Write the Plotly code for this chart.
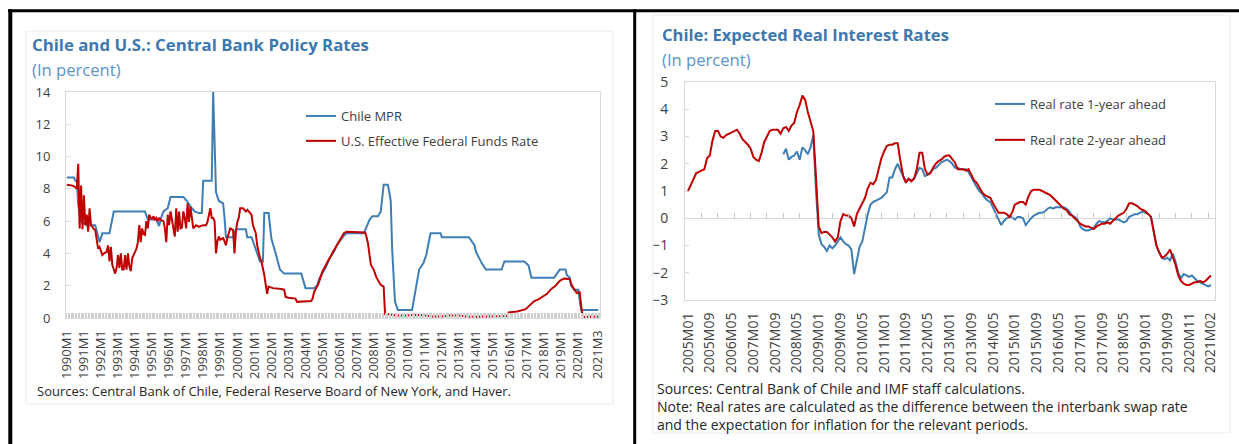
import plotly.graph_objects as go

W, H = 1239, 444

# ---------------- Left chart data (monthly, 1990M1 - 2021M3) ----------------
mpr_dates = ["1990-01", "1990-06", "1990-07", "1990-08", "1990-09", "1990-11", "1991-03", "1991-09",
             "1991-12", "1992-02", "1992-07", "1992-08", "1992-10", "1994-08", "1994-10", "1995-04",
             "1995-06", "1995-07", "1995-09", "1995-12", "1996-02", "1996-11", "1997-02", "1997-04",
             "1997-07", "1997-10", "1997-12", "1998-01", "1998-07", "1998-08", "1998-09", "1998-10",
             "1998-12", "1999-03", "1999-04", "1999-05", "1999-10", "1999-12", "2000-07", "2000-08",
             "2000-11", "2001-04", "2001-05", "2001-07", "2001-08", "2001-11", "2002-01", "2002-04",
             "2002-06", "2002-07", "2002-10", "2003-10", "2004-01", "2004-07", "2004-09", "2004-11",
             "2005-03", "2005-06", "2005-09", "2005-11", "2006-01", "2006-04", "2006-06", "2007-06",
             "2007-08", "2007-10", "2007-12", "2008-04", "2008-06", "2008-08", "2008-11", "2009-01",
             "2009-02", "2009-03", "2009-04", "2009-06", "2010-04", "2010-05", "2010-07", "2010-09",
             "2010-12", "2011-02", "2011-04", "2011-05", "2011-12", "2012-01", "2013-08", "2013-10",
             "2013-12", "2014-01", "2014-03", "2014-05", "2014-08", "2015-07", "2015-08", "2015-09",
             "2016-11", "2017-02", "2017-04", "2018-08", "2018-10", "2018-12", "2019-04", "2019-05",
             "2019-07", "2019-08", "2019-10", "2020-01", "2020-03", "2021-03"]
mpr_values = [8.7, 8.7, 8.5, 8.5, 7.0, 6.0, 5.75, 5.75,
              4.7, 5.25, 5.25, 5.75, 6.6, 6.6, 6.1, 6.1,
              5.7, 6.1, 6.6, 6.8, 7.5, 7.5, 7.2, 6.9,
              6.6, 6.5, 6.5, 8.5, 8.5, 14.0, 11.5, 7.8,
              7.25, 7.1, 6.2, 5.0, 5.0, 5.5, 5.5, 5.0,
              5.0, 3.7, 3.5, 3.5, 6.5, 6.5, 4.9, 4.0,
              3.2, 3.0, 2.75, 2.75, 1.85, 1.85, 2.0, 2.5,
              3.1, 3.7, 4.1, 4.5, 4.75, 5.1, 5.25, 5.25,
              5.65, 6.07, 6.3, 6.3, 6.6, 8.25, 8.25, 7.25,
              4.25, 2.25, 1.0, 0.5, 0.5, 1.0, 2.0, 3.0,
              3.4, 3.9, 4.8, 5.25, 5.25, 5.0, 5.0, 4.75,
              4.5, 4.1, 3.7, 3.4, 3.0, 3.0, 3.25, 3.5,
              3.5, 3.25, 2.5, 2.5, 2.75, 3.0, 3.0, 2.65,
              2.5, 2.0, 1.75, 1.75, 0.5, 0.5]

effr_dates = ["1990-01", "1990-05", "1990-07", "1990-08", "1990-09", "1990-10", "1990-11", "1990-12",
              "1991-01", "1991-02", "1991-03", "1991-04", "1991-05", "1991-06", "1991-07", "1991-08",
              "1991-09", "1991-10", "1991-11", "1991-12", "1992-01", "1992-02", "1992-03", "1992-05",
              "1992-06", "1992-07", "1992-08", "1992-09", "1992-11", "1992-12", "1993-01", "1993-02",
              "1993-03", "1993-04", "1993-05", "1993-06", "1993-07", "1993-08", "1993-09", "1993-10",
              "1993-11", "1993-12", "1994-01", "1994-02", "1994-03", "1994-04", "1994-05", "1994-06",
              "1994-07", "1994-08", "1994-09", "1994-10", "1994-11", "1994-12", "1995-01", "1995-02",
              "1995-03", "1995-04", "1995-05", "1995-06", "1995-07", "1995-09", "1995-10", "1995-11",
              "1995-12", "1996-01", "1996-02", "1996-04", "1996-05", "1996-06", "1996-07", "1996-08",
              "1996-09", "1996-10", "1996-11", "1996-12", "1997-01", "1997-02", "1997-03", "1997-04",
              "1997-05", "1997-06", "1997-08", "1997-10", "1998-01", "1998-03", "1998-04", "1998-05",
              "1998-06", "1998-07", "1998-08", "1998-09", "1998-10", "1998-11", "1998-12", "1999-01",
              "1999-02", "1999-03", "1999-04", "1999-05", "1999-06", "1999-07", "1999-08", "1999-09",
              "1999-10", "1999-11", "1999-12", "2000-01", "2000-02", "2000-03", "2000-04", "2000-05",
              "2000-06", "2000-07", "2000-08", "2000-09", "2000-11", "2000-12", "2001-01", "2001-02",
              "2001-03", "2001-04", "2001-05", "2001-06", "2001-07", "2001-08", "2001-09", "2001-10",
              "2001-11", "2002-02", "2002-08", "2002-10", "2002-11", "2003-01", "2003-06", "2003-07",
              "2004-05", "2004-06", "2004-07", "2004-10", "2005-01", "2005-05", "2005-09", "2006-01",
              "2006-04", "2006-06", "2007-07", "2007-08", "2007-09", "2007-11", "2008-01", "2008-03",
              "2008-05", "2008-06", "2008-08", "2008-09", "2008-10", "2009-01", "2009-06", "2010-01",
              "2010-06", "2011-01", "2011-06", "2012-01", "2012-06", "2013-01", "2013-06", "2014-01",
              "2015-01", "2015-11", "2015-12", "2016-06", "2016-12", "2017-03", "2017-06", "2017-09",
              "2017-12", "2018-03", "2018-06", "2018-09", "2018-12", "2019-03", "2019-07", "2019-08",
              "2019-10", "2019-12", "2020-02", "2020-03", "2020-04", "2020-09", "2021-03"]
effr_values = [8.25, 8.2, 8.1, 8.0, 9.55, 5.55, 8.2, 5.5,
               7.6, 5.75, 6.4, 5.35, 6.8, 5.75, 5.65, 5.5,
               5.45, 4.7, 4.3, 4.4, 4.1, 3.9, 4.0, 4.1,
               4.5, 3.5, 4.4, 3.3, 2.75, 3.1, 3.9, 3.1,
               4.0, 3.0, 3.0, 3.9, 3.0, 4.0, 3.2, 2.9,
               3.7, 3.9, 4.2, 4.3, 4.7, 5.75, 4.7, 5.55,
               5.2, 5.15, 6.0, 5.55, 6.4, 6.2, 6.15, 6.3,
               6.1, 6.2, 6.0, 6.2, 6.07, 6.0, 5.55, 4.7,
               6.4, 5.75, 6.6, 5.55, 5.05, 6.8, 5.35, 6.6,
               5.55, 5.6, 6.6, 6.2, 5.55, 7.1, 5.95, 6.9,
               6.0, 5.55, 5.75, 5.65, 5.75, 5.75, 5.95, 6.4,
               6.8, 6.2, 6.2, 6.0, 4.0, 4.75, 5.05, 4.85,
               4.9, 4.95, 4.75, 4.5, 4.95, 5.35, 5.55, 5.5,
               5.45, 4.0, 5.35, 5.95, 6.2, 6.8, 6.8, 6.8,
               6.7, 6.6, 6.7, 6.6, 6.4, 5.75, 5.55, 5.25,
               4.5, 4.0, 3.7, 3.5, 3.1, 2.65, 2.05, 1.5,
               1.95, 1.85, 1.8, 1.75, 1.3, 1.25, 1.2, 1.0,
               1.05, 1.2, 1.6, 2.1, 2.9, 3.6, 4.2, 4.8,
               5.25, 5.35, 5.3, 5.0, 4.6, 3.3, 3.0, 2.5,
               2.15, 2.05, 1.95, 0.25, 0.25, 0.2, 0.15, 0.15,
               0.2, 0.15, 0.1, 0.1, 0.15, 0.15, 0.1, 0.08,
               0.1, 0.12, 0.35, 0.4, 0.55, 0.8, 1.05, 1.15,
               1.3, 1.5, 1.8, 2.0, 2.3, 2.45, 2.4, 2.1,
               1.8, 1.55, 1.6, 0.6, 0.05, 0.09, 0.07]

left_tick_dates = ["1990-01", "1991-01", "1992-01", "1993-01", "1994-01", "1995-01", "1996-01", "1997-01",
                   "1998-01", "1999-01", "2000-01", "2001-01", "2002-01", "2003-01", "2004-01", "2005-01",
                   "2006-01", "2007-01", "2008-01", "2009-01", "2010-01", "2011-01", "2012-01", "2013-01",
                   "2014-01", "2015-01", "2016-01", "2017-01", "2018-01", "2019-01", "2020-01", "2021-03"]
left_tick_labels = ["1990M1", "1991M1", "1992M1", "1993M1", "1994M1", "1995M1", "1996M1", "1997M1",
                    "1998M1", "1999M1", "2000M1", "2001M1", "2002M1", "2003M1", "2004M1", "2005M1",
                    "2006M1", "2007M1", "2008M1", "2009M1", "2010M1", "2011M1", "2012M1", "2013M1",
                    "2014M1", "2015M1", "2016M1", "2017M1", "2018M1", "2019M1", "2020M1", "2021M3"]

# ---------------- Right chart data (monthly) ----------------
rr2_start = "2005-01"
rr2_values = [1.0, 1.2, 1.45, 1.65, 1.7, 1.75, 1.8, 2.2, 2.3, 2.85, 3.2, 3.2, 3.0, 2.95, 3.05, 3.1,
              3.15, 3.2, 3.25, 3.1, 2.9, 2.8, 2.7, 2.55, 2.25, 2.15, 2.1, 2.4, 2.8, 3.0, 3.2, 3.25,
              3.25, 3.25, 3.1, 3.3, 3.35, 3.2, 3.4, 3.5, 3.9, 4.15, 4.5, 4.35, 3.9, 3.5, 3.2, 1.5,
              -0.3, -0.55, -0.5, -0.5, -0.6, -0.7, -0.85, -0.7, -0.1, 0.15, 0.1, 0.1, 0.0, -0.3, 0.15, 0.35,
              0.55, 0.75, 1.1, 1.3, 1.25, 1.4, 1.8, 2.2, 2.45, 2.65, 2.7, 2.7, 2.75, 2.75, 2.1, 1.55,
              1.3, 1.45, 1.35, 1.45, 1.8, 2.4, 2.4, 1.8, 1.6, 1.65, 1.85, 2.0, 2.1, 2.15, 2.25, 2.3,
              2.3, 2.15, 2.05, 1.8, 1.8, 1.8, 1.75, 1.8, 1.6, 1.4, 1.3, 1.1, 0.95, 0.85, 0.8, 0.75,
              0.55, 0.35, 0.2, 0.2, 0.2, 0.15, 0.05, 0.2, 0.5, 0.55, 0.6, 0.6, 0.5, 0.8, 1.0, 1.05,
              1.05, 1.05, 1.0, 0.95, 0.9, 0.85, 0.75, 0.65, 0.55, 0.45, 0.35, 0.3, 0.15, 0.1, 0.0, -0.1,
              -0.2, -0.25, -0.3, -0.3, -0.35, -0.4, -0.3, -0.25, -0.2, -0.2, -0.15, -0.2, -0.1, 0.0, 0.1, 0.15,
              0.2, 0.35, 0.55, 0.55, 0.5, 0.45, 0.35, 0.3, 0.25, 0.15, 0.05, -0.5, -1.0, -1.25, -1.45, -1.4,
              -1.3, -1.15, -1.4, -1.7, -2.1, -2.3, -2.4, -2.45, -2.45, -2.4, -2.35, -2.35, -2.3, -2.35, -2.3, -2.2,
              -2.1]
rr1_start = "2007-12"
rr1_values = [2.35, 2.55, 2.15, 2.25, 2.3, 2.45, 2.15, 2.6, 2.5, 2.35, 2.6, 3.05, 1.0,
              -0.6, -0.95, -1.05, -1.2, -1.0, -1.1, -1.0, -0.85, -0.7, -0.85, -0.95, -1.0, -1.15, -2.05, -1.5,
              -1.05, -0.85, -0.3, 0.15, 0.5, 0.6, 0.65, 0.7, 0.75, 0.85, 0.95, 1.5, 1.5, 1.8, 2.0, 1.75,
              1.55, 1.35, 1.45, 1.4, 1.45, 1.65, 1.85, 1.8, 1.55, 1.6, 1.7, 1.8, 1.85, 1.95, 2.05, 2.1,
              2.15, 2.1, 2.0, 1.85, 1.85, 1.8, 1.8, 1.8, 1.7, 1.5, 1.35, 1.15, 1.0, 0.9, 0.75, 0.65,
              0.6, 0.4, 0.2, 0.0, -0.25, -0.1, 0.0, 0.05, 0.05, -0.05, 0.05, 0.05, 0.0, -0.25, -0.1, 0.0,
              0.1, 0.15, 0.2, 0.2, 0.25, 0.35, 0.4, 0.35, 0.4, 0.4, 0.4, 0.4, 0.35, 0.25, 0.1, 0.05,
              -0.05, -0.3, -0.4, -0.45, -0.45, -0.4, -0.35, -0.2, -0.1, -0.15, -0.15, -0.1, 0.0, -0.05, -0.05, -0.05,
              -0.1, -0.15, -0.1, 0.05, 0.1, 0.15, 0.15, 0.2, 0.25, 0.2, 0.15, 0.05, -0.5, -1.0, -1.25, -1.45,
              -1.5, -1.45, -1.55, -1.3, -1.6, -2.0, -2.2, -2.05, -2.1, -2.15, -2.1, -2.2, -2.3, -2.35, -2.4, -2.45,
              -2.5, -2.45]
right_tick_labels = ["2005M01", "2005M09", "2006M05", "2007M01", "2007M09", "2008M05", "2009M01",
                     "2009M09", "2010M05", "2011M01", "2011M09", "2012M05", "2013M01", "2013M09",
                     "2014M05", "2015M01", "2015M09", "2016M05", "2017M01", "2017M09", "2018M05",
                     "2019M01", "2019M09", "2020M11", "2021M02"]


def month_index(date, base):
    y, m = date.split("-")
    by, bm = base.split("-")
    return (int(y) - int(by)) * 12 + int(m) - int(bm)


BLUE = "#3F7EB5"
RED = "#C00000"
TXT = "#404040"
GRID = "#d9d9d9"
FONT = "Open Sans"

mpr_x = [month_index(d, "1990-01") for d in mpr_dates]
effr_x = [month_index(d, "1990-01") for d in effr_dates]
left_tickvals = [month_index(d, "1990-01") for d in left_tick_dates]

rr2_x0 = month_index(rr2_start, "2005-01")
rr1_x0 = month_index(rr1_start, "2005-01")
rr2_x = [rr2_x0 + i for i in range(len(rr2_values))]
rr1_x = [rr1_x0 + i for i in range(len(rr1_values))]
right_tickvals = [8 * k for k in range(len(right_tick_labels))]
zero_ticks = [6 * k - 1 for k in range(1, 33)]

fig = go.Figure()
fig.add_trace(go.Scatter(x=mpr_x, y=mpr_values, mode="lines", name="Chile MPR",
                         line=dict(color=BLUE, width=2), xaxis="x", yaxis="y",
                         legend="legend", legendgroup="a"))
fig.add_trace(go.Scatter(x=effr_x, y=effr_values, mode="lines", name="U.S. Effective Federal Funds Rate",
                         line=dict(color=RED, width=2), xaxis="x", yaxis="y",
                         legend="legend", legendgroup="b"))
fig.add_trace(go.Scatter(x=rr1_x, y=rr1_values, mode="lines", name="Real rate 1-year ahead",
                         line=dict(color=BLUE, width=2), xaxis="x2", yaxis="y2",
                         legend="legend2", legendgroup="c"))
fig.add_trace(go.Scatter(x=rr2_x, y=rr2_values, mode="lines", name="Real rate 2-year ahead",
                         line=dict(color=RED, width=2), xaxis="x2", yaxis="y2",
                         legend="legend2", legendgroup="d"))
fig.add_trace(go.Scatter(x=[None], y=[None], xaxis="x3", yaxis="y2", showlegend=False,
                         hoverinfo="skip"))


def px(v):
    return v / W


def py(v):
    return 1 - v / H


ydom2 = [py(300), py(82)]
zero_pos = ydom2[0] + 3 / 8 * (ydom2[1] - ydom2[0])
xr2 = [-1.1, 193.5]

fig.update_layout(
    width=W, height=H, autosize=False, hovermode=False,
    margin=dict(l=0, r=0, t=0, b=0, pad=0, autoexpand=False),
    paper_bgcolor="white", plot_bgcolor="white",
    font=dict(family=FONT, color=TXT, size=13),
    xaxis=dict(domain=[px(66), px(600)], anchor="y", range=[-0.6, 375.3],
               tickmode="array", tickvals=left_tickvals, ticktext=left_tick_labels,
               tickangle=-90, tickfont=dict(size=13, color=TXT), ticks="",
               showline=True, mirror=True, linecolor=GRID, linewidth=1,
               showgrid=False, zeroline=False, ticklabelstandoff=6, automargin=False,
               minor=dict(tickmode="linear", tick0=0, dtick=1, ticks="inside", ticklen=5,
                          tickcolor="#cfcfcf", tickwidth=1, showgrid=False)),
    yaxis=dict(domain=[py(318), py(92)], anchor="x", range=[0, 14], dtick=2,
               ticks="inside", ticklen=5, tickcolor=GRID, tickfont=dict(size=13, color=TXT),
               showline=True, mirror=True, linecolor=GRID, showgrid=False, zeroline=False,
               ticklabelstandoff=12, automargin=False),
    xaxis2=dict(domain=[px(685), px(1215)], anchor="y2", range=xr2,
                tickmode="array", tickvals=right_tickvals, ticktext=right_tick_labels,
                tickangle=-90, tickfont=dict(size=14, color=TXT), ticks="",
                showline=True, mirror=True, linecolor=GRID, showgrid=False, zeroline=False,
                ticklabelstandoff=6, automargin=False),
    xaxis3=dict(overlaying="x2", anchor="free", position=zero_pos, side="top", range=xr2,
                tickmode="array", tickvals=zero_ticks, ticks="outside", ticklen=5,
                tickcolor="#c8c8c8", showticklabels=False, showline=False, showgrid=False,
                zeroline=False, automargin=False),
    yaxis2=dict(domain=ydom2, anchor="x2", range=[-3, 5], dtick=1,
                ticks="inside", ticklen=4, tickcolor=GRID, tickfont=dict(size=14, color=TXT),
                showline=True, mirror=True, linecolor=GRID, showgrid=False,
                zeroline=True, zerolinecolor=GRID, zerolinewidth=1.5, ticklabelstandoff=13,
                automargin=False),
    legend=dict(x=px(301), y=py(101), xanchor="left", yanchor="top", bgcolor="rgba(0,0,0,0)",
                font=dict(size=13, color=TXT), tracegroupgap=5, itemwidth=30),
    legend2=dict(x=px(990), y=py(89), xanchor="left", yanchor="top", bgcolor="rgba(0,0,0,0)",
                 font=dict(size=13, color=TXT), tracegroupgap=16, itemwidth=30),
    showlegend=True,
)

shapes = [
    dict(type="line", xref="paper", yref="paper", x0=px(8), x1=px(1239), y0=py(10.8), y1=py(10.8),
         line=dict(color="black", width=3)),
    dict(type="line", xref="paper", yref="paper", x0=px(10.3), x1=px(10.3), y0=py(9.3), y1=py(444),
         line=dict(color="black", width=4)),
    dict(type="line", xref="paper", yref="paper", x0=px(634.7), x1=px(634.7), y0=py(9.3), y1=py(444),
         line=dict(color="black", width=3)),
    dict(type="rect", xref="paper", yref="paper", x0=px(26), x1=px(613), y0=py(404), y1=py(31),
         line=dict(color="#ececec", width=1)),
    dict(type="rect", xref="paper", yref="paper", x0=px(653), x1=px(1230), y0=py(433), y1=py(15),
         line=dict(color="#ececec", width=1)),
]
fig.update_layout(shapes=shapes)

TITLE = "#3D78B0"
SUB = "#5B93C9"
ann = [
    dict(text="<b>Chile and U.S.: Central Bank Policy Rates</b>", x=px(30), y=py(45),
         font=dict(size=16.8, color=TITLE)),
    dict(text="(In percent)", x=px(30), y=py(70), font=dict(size=16.6, color=SUB)),
    dict(text="<b>Chile: Expected Real Interest Rates</b>", x=px(660), y=py(35),
         font=dict(size=16.6, color=TITLE)),
    dict(text="(In percent)", x=px(660), y=py(60), font=dict(size=16.6, color=SUB)),
    dict(text="Sources: Central Bank of Chile, Federal Reserve Board of New York, and Haver.",
         x=px(35), y=py(391), font=dict(size=13, color="#262626")),
    dict(text="Sources: Central Bank of Chile and IMF staff calculations.<br>"
              "Note: Real rates are calculated as the difference between the interbank swap rate<br>"
              "and the expectation for inflation for the relevant periods.",
         x=px(655), y=py(406), align="left", font=dict(size=14, color="#262626")),
]
for a in ann:
    a.update(xref="paper", yref="paper", xanchor="left", yanchor="middle", showarrow=False)
fig.update_layout(annotations=ann)

fig.write_html("out.html",
               config={"displayModeBar": False, "staticPlot": True},
               post_script="document.body.style.margin='0';document.body.style.padding='0';"
                           "document.body.style.overflow='hidden';")
